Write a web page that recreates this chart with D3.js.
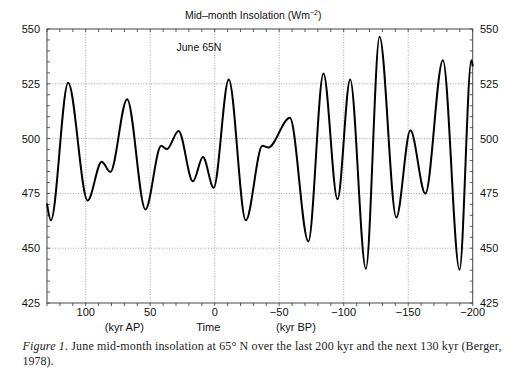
<!DOCTYPE html>
<html>
<head>
<meta charset="utf-8">
<script src="https://cdn.jsdelivr.net/npm/d3@7"></script>
<style>
  html, body { margin: 0; padding: 0; background: #fff; }
  svg { display: block; }
</style>
</head>
<body>
<svg id="chart" width="510" height="372"></svg>
<script>
// ---- data ----
const timeKyr = [130, 127, 113.6, 98.5, 87.6, 80.9, 67.9, 53.7, 41.5, 37.1, 28, 16.9, 9.1, 0.8,
  -10.9, -24.1, -37, -41.5, -58.3, -72.6, -84.3, -95.2, -105, -117.2, -127.8, -140.8,
  -151.7, -163.3, -176.9, -189.8, -199, -200];
const insolation = [470.3, 462.7, 525.5, 471.8, 489.4, 484.8, 518, 467.7, 496.7, 495.2, 503.5, 480.5, 491.6, 477.6,
  527, 462.7, 496.7, 495.9, 509.5, 453.1, 529.7, 472.3, 527, 440.6, 546.5, 464,
  503.8, 474.9, 535.8, 440.2, 535.8, 533];
const xTickValues = [100, 50, 0, -50, -100, -150, -200];
const yTickValues = [425, 450, 475, 500, 525, 550];
const xGridValues = [100, 50, 0, -50, -100, -150];
const yGridValues = [450, 475, 500, 525];
const titleText = "Mid–month Insolation (Wm";
const titleSup = "−2";
const titleEnd = ")";
const seriesLabel = "June 65N";
const axisLabels = [{text: "(kyr AP)", t: 70}, {text: "Time", t: 5}, {text: "(kyr BP)", t: -63}];
const captionItalic = "Figure 1.";
const captionLine1 = " June mid-month insolation at 65° N over the last 200 kyr and the next 130 kyr (Berger,";
const captionLine2 = "1978).";

// ---- layout ----
const svg = d3.select("#chart");
const L = 47, R = 472.7, T = 29, B = 303;
const sans = "'Liberation Sans', Arial, Helvetica, sans-serif";
const serif = "'Liberation Serif', 'Times New Roman', serif";

const x = d3.scaleLinear().domain([130, -200]).range([L, R]);
const y = d3.scaleLinear().domain([425, 550]).range([B, T]);

// grid
const grid = svg.append("g").attr("stroke", "#8a8a8a").attr("stroke-width", 0.8).attr("stroke-dasharray", "1,1.6");
grid.selectAll("line.vx").data(xGridValues).join("line")
  .attr("x1", d => x(d)).attr("x2", d => x(d)).attr("y1", T).attr("y2", B);
grid.selectAll("line.hy").data(yGridValues).join("line")
  .attr("x1", L).attr("x2", R).attr("y1", d => y(d)).attr("y2", d => y(d));

// minor / major ticks
const xTicksAll = d3.range(130, -201, -10);
const yTicksAll = d3.range(425, 551, 5);
const tk = svg.append("g").attr("stroke", "#333").attr("stroke-width", 0.8);
tk.selectAll("line.tt").data(xTicksAll).join("line")
  .attr("x1", d => x(d)).attr("x2", d => x(d)).attr("y1", T).attr("y2", T + 3);
tk.selectAll("line.tb").data(xTicksAll).join("line")
  .attr("x1", d => x(d)).attr("x2", d => x(d)).attr("y1", B).attr("y2", B + 3);
tk.selectAll("line.tl").data(yTicksAll).join("line")
  .attr("x1", L).attr("x2", L + 3).attr("y1", d => y(d)).attr("y2", d => y(d));
tk.selectAll("line.tr").data(yTicksAll).join("line")
  .attr("x1", R - 3).attr("x2", R).attr("y1", d => y(d)).attr("y2", d => y(d));

// frame
svg.append("rect").attr("x", L).attr("y", T).attr("width", R - L).attr("height", B - T)
  .attr("fill", "none").attr("stroke", "#444").attr("stroke-width", 1);

// curve
const pts = timeKyr.map((t, i) => [t, insolation[i]]);
const line = d3.line().x(d => x(d[0])).y(d => y(d[1])).curve(d3.curveMonotoneX);
svg.append("path").datum(pts).attr("d", line)
  .attr("fill", "none").attr("stroke", "#000").attr("stroke-width", 2);

// tick labels
const fmt = d => d < 0 ? "−" + Math.abs(d) : String(d);
svg.append("g").selectAll("text").data(yTickValues).join("text")
  .attr("x", 40).attr("y", d => y(d)).attr("dy", "0.36em").attr("text-anchor", "end")
  .attr("font-family", sans).attr("font-size", 11).attr("fill", "#111").text(d => d);
svg.append("g").selectAll("text").data(yTickValues).join("text")
  .attr("x", 480).attr("y", d => y(d)).attr("dy", "0.36em").attr("text-anchor", "start")
  .attr("font-family", sans).attr("font-size", 11).attr("fill", "#111").text(d => d);
svg.append("g").selectAll("text").data(xTickValues).join("text")
  .attr("x", d => x(d)).attr("y", 316).attr("text-anchor", "middle")
  .attr("font-family", sans).attr("font-size", 11).attr("fill", "#111").text(fmt);

// axis labels
svg.append("g").selectAll("text").data(axisLabels).join("text")
  .attr("x", d => x(d.t)).attr("y", 331).attr("text-anchor", "middle")
  .attr("font-family", sans).attr("font-size", 11).attr("fill", "#111").text(d => d.text);

// title
const title = svg.append("text").attr("x", 185).attr("y", 19)
  .attr("font-family", sans).attr("font-size", 10.5).attr("fill", "#111");
title.append("tspan").text(titleText);
title.append("tspan").attr("font-size", 7).attr("dy", -4).text(titleSup);
title.append("tspan").attr("dy", 4).text(titleEnd);

// series label
svg.append("text").attr("x", 176.5).attr("y", 51).attr("font-family", sans)
  .attr("font-size", 10.5).attr("fill", "#111").text(seriesLabel);

// caption
const cap = svg.append("text").attr("x", 22.5).attr("y", 350)
  .attr("font-family", serif).attr("font-size", 12).attr("fill", "#222")
  .attr("textLength", 479).attr("lengthAdjust", "spacing");
cap.append("tspan").attr("font-style", "italic").text(captionItalic);
cap.append("tspan").text(captionLine1);
svg.append("text").attr("x", 22.5).attr("y", 365)
  .attr("font-family", serif).attr("font-size", 12).attr("fill", "#222").text(captionLine2);
</script>
</body>
</html>
